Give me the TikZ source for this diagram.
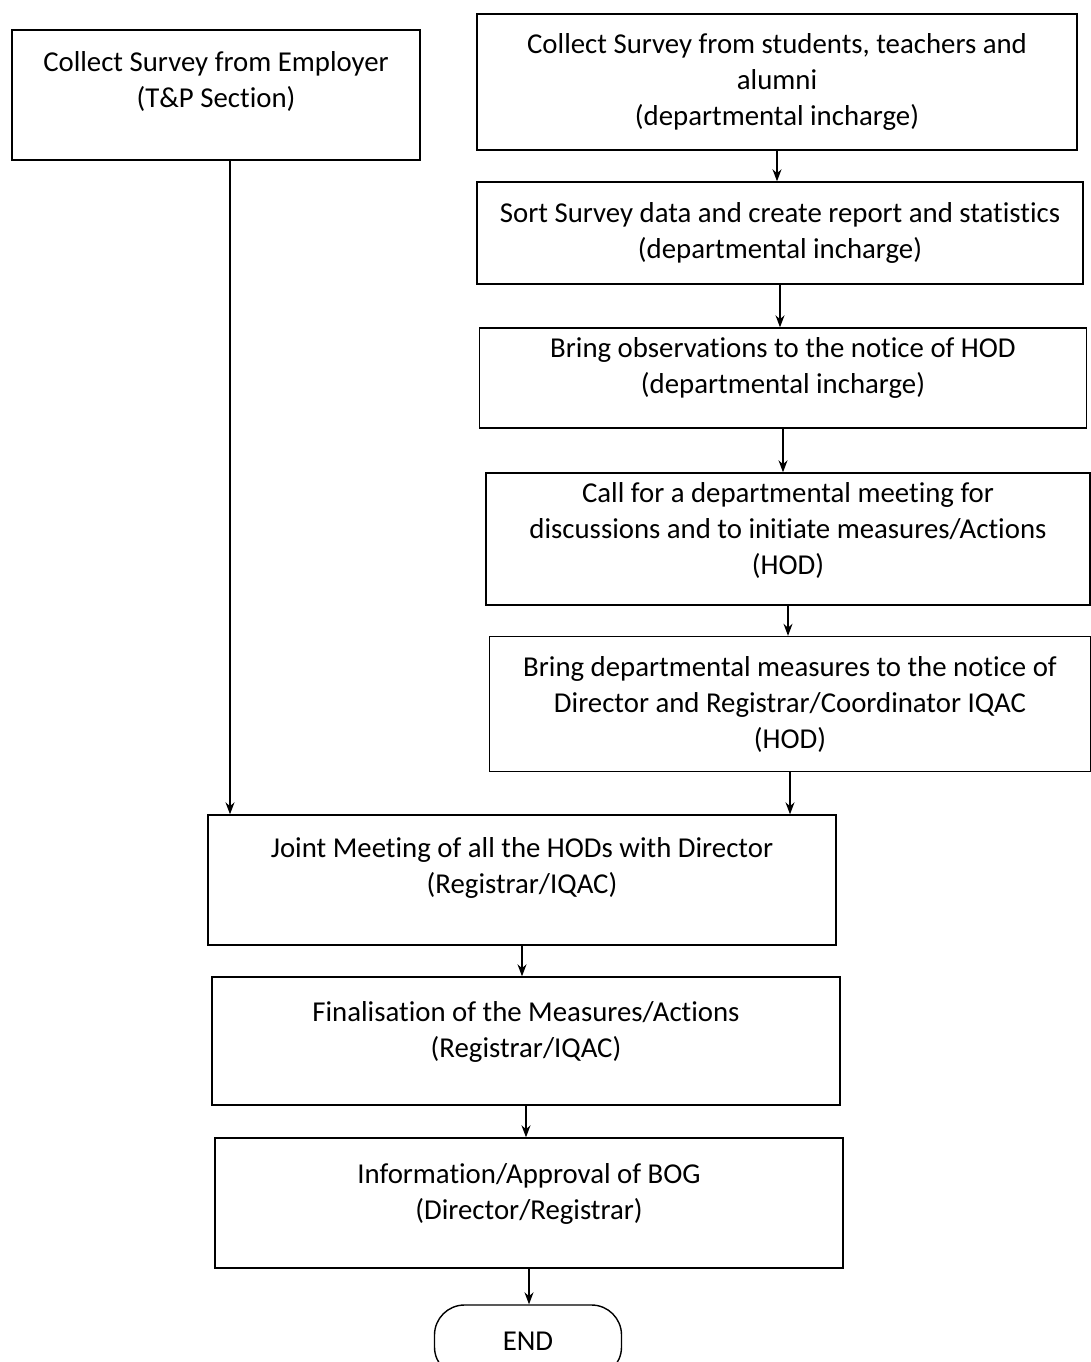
\documentclass[tikz,border=0pt]{standalone}
\usepackage{fontspec}
\setmainfont{Carlito}[Ligatures=NoCommon]
\usetikzlibrary{arrows.meta}
\newcommand\liftby[1]{\\[#1]\mbox{}}
\begin{document}
\begin{tikzpicture}[x=1pt,y=-1pt,
  box/.style={draw, line width=1.4pt, align=center, inner sep=0pt,
    font=\fontsize{28.8}{36}\selectfont},
  arr/.style={-{Stealth[length=12pt,width=9pt]}, line width=1.3pt}]
\useasboundingbox (0,0) rectangle (1090,1362);
\fill[white] (0,0) rectangle (1090,1362);
\node[box, minimum width=408, minimum height=130] (emp) at (216,95)
  {Collect Survey from Employer\\(T\&P Section)\liftby{-6pt}};
\node[box, minimum width=600, minimum height=136] (stu) at (777,82)
  {Collect Survey from students, teachers and\\alumni\\(departmental incharge)};
\node[box, minimum width=606, minimum height=102] (sort) at (780,233)
  {Sort Survey data and create report and statistics\\(departmental incharge)};
\node[box, minimum width=607, minimum height=100] (obs) at (783,378)
  {Bring observations to the notice of HOD\\(departmental incharge)\liftby{-10pt}};
\node[box, minimum width=604, minimum height=132] (call) at (788,539)
  {Call for a departmental meeting for\\discussions and to initiate measures/Actions\\(HOD)\liftby{-14pt}};
\node[box, minimum width=601, minimum height=135] (meas) at (790,704)
  {Bring departmental measures to the notice of\\Director and Registrar/Coordinator IQAC\\(HOD)};
\node[box, minimum width=628, minimum height=130] (joint) at (522,880)
  {Joint Meeting of all the HODs with Director\\(Registrar/IQAC)\liftby{-6pt}};
\node[box, minimum width=628, minimum height=128] (fin) at (526,1041)
  {Finalisation of the Measures/Actions\\(Registrar/IQAC)\liftby{-12pt}};
\node[box, minimum width=628, minimum height=130] (info) at (529,1203)
  {Information/Approval of BOG\\(Director/Registrar)\liftby{-12pt}};
\node[box, rounded corners=30, minimum width=187, minimum height=72] (endn) at (528,1341)
  {END};
\coordinate (e1) at ([xshift=14]emp.south);
\draw[arr] (e1) -- (e1 |- joint.north);
\draw[arr] (stu.south) -- (stu.south |- sort.north);
\draw[arr] (sort.south) -- (sort.south |- obs.north);
\draw[arr] (obs.south) -- (obs.south |- call.north);
\draw[arr] (call.south) -- (call.south |- meas.north);
\draw[arr] (meas.south) -- (meas.south |- joint.north);
\draw[arr] (joint.south) -- (joint.south |- fin.north);
\draw[arr] (fin.south) -- (fin.south |- info.north);
\draw[arr] (info.south) -- (info.south |- endn.north);
\end{tikzpicture}
\end{document}
